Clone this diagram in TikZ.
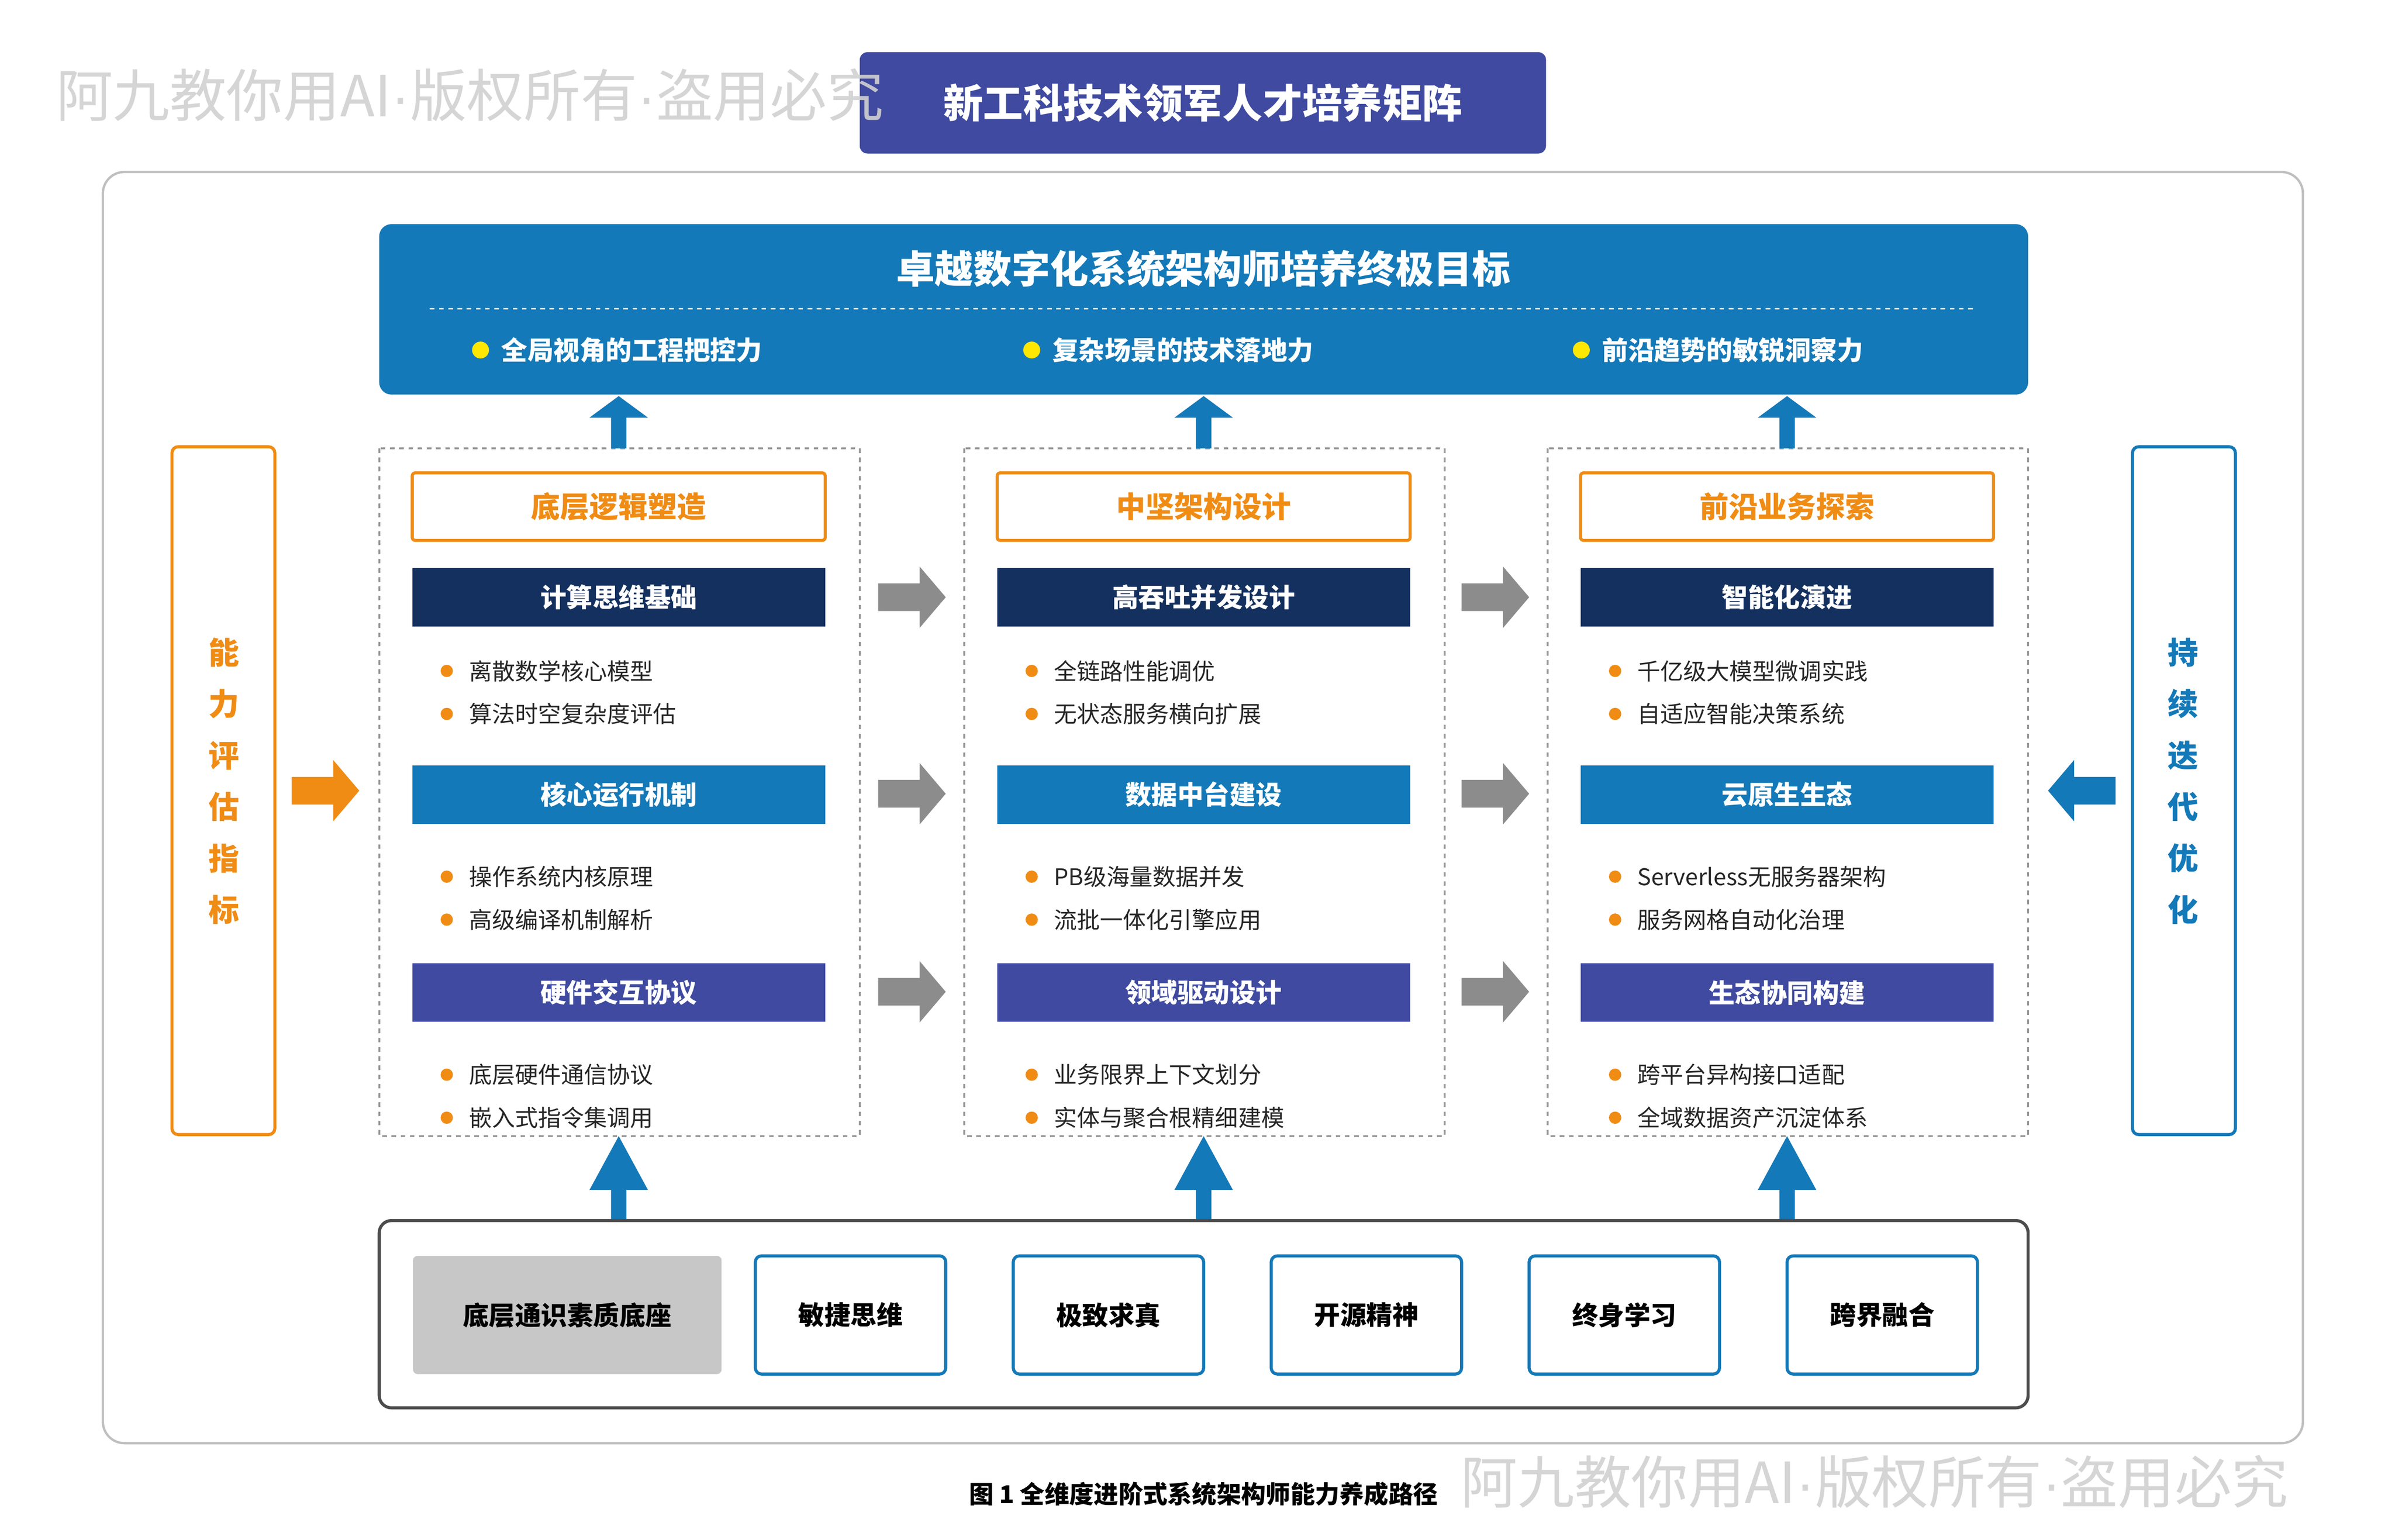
\documentclass[tikz,border=0pt]{standalone}
\usepackage{fontspec}
\setmainfont{Noto Sans CJK SC}
\newfontfamily\latf{Liberation Sans}
\definecolor{indigo}{HTML}{3F4AA0}
\definecolor{mblue}{HTML}{1479B8}
\definecolor{navy}{HTML}{14305E}
\definecolor{orng}{HTML}{F08C14}
\definecolor{gar}{HTML}{8C8C8C}
\newcommand{\upA}[3]{\fill[mblue] (#1-5,#2) -- (#1-5,#2-20) -- (#1-19,#2-20) -- (#1,#3) -- (#1+19,#2-20) -- (#1+5,#2-20) -- (#1+5,#2) -- cycle;}
\newcommand{\rtA}[3]{\fill[#3] (#1,#2-9) -- (#1+27,#2-9) -- (#1+27,#2-20) -- (#1+44,#2) -- (#1+27,#2+20) -- (#1+27,#2+9) -- (#1,#2+9) -- cycle;}
\newcommand{\wmtext}{阿九教你用AI{\latf ·}版权所有{\latf ·}盗用必究}
\begin{document}
\begin{tikzpicture}[x=1pt,y=-1pt,
 hdr/.style={draw=orng,line width=2pt,fill=white,rounded corners=2pt,minimum width=269pt,minimum height=44pt,text=orng,font=\fontsize{19}{19}\selectfont\bfseries},
 bar/.style={fill=#1,minimum width=269pt,minimum height=38pt,text=white,font=\fontsize{17}{17}\selectfont\bfseries},
 bl/.style={anchor=west,font=\fontsize{15}{15}\selectfont,text=black!85},
 sk/.style={draw=mblue,line width=2pt,rounded corners=4pt,minimum width=124pt,minimum height=77pt,font=\fontsize{17}{17}\selectfont\bfseries},
 vt/.style={font=\fontsize{20}{20}\selectfont\bfseries},
 wm/.style={text=black!18,opacity=0.9,font=\fontsize{37}{37}\selectfont,anchor=west}]
\useasboundingbox (0,0) rectangle (1560,1003);
\fill[white] (0,0) rectangle (1560,1003);
\draw[black!25,line width=1.5pt,rounded corners=14pt] (67,112) rectangle (1500,940);
\node[fill=indigo,rounded corners=5pt,minimum width=447pt,minimum height=66pt,text=white,font=\fontsize{26}{26}\selectfont\bfseries] (title) at (783.5,67) {新工科技术领军人才培养矩阵};
\node[wm] (wm1) at (33,62) {\wmtext};
% goal
\node[fill=mblue,rounded corners=8pt,minimum width=1074pt,minimum height=111pt] (goal) at (784,201.5) {};
\node[text=white,font=\fontsize{25}{25}\selectfont\bfseries] (gt) at (784,175) {卓越数字化系统架构师培养终极目标};
\draw[white,dashed,line width=1pt] (280,201) -- (1286,201);
\foreach \x/\t [count=\i] in {313/全局视角的工程把控力,672/复杂场景的技术落地力,1030/前沿趋势的敏锐洞察力}{
 \fill[yellow!90!orange] (\x,228) circle (5.5);
 \node[anchor=west,text=white,font=\fontsize{17}{17}\selectfont\bfseries] (g\i) at (\x+10,228) {\t};}
% columns
\foreach \cx/\h/\a/\aa/\ab/\b/\ba/\bb/\c/\ca/\cb [count=\i] in
 {403/底层逻辑塑造/计算思维基础/离散数学核心模型/算法时空复杂度评估/核心运行机制/操作系统内核原理/高级编译机制解析/硬件交互协议/底层硬件通信协议/嵌入式指令集调用,
  784/中坚架构设计/高吞吐并发设计/全链路性能调优/无状态服务横向扩展/数据中台建设/PB级海量数据并发/流批一体化引擎应用/领域驱动设计/业务限界上下文划分/实体与聚合根精细建模,
  1164/前沿业务探索/智能化演进/千亿级大模型微调实践/自适应智能决策系统/云原生生态/Serverless无服务器架构/服务网格自动化治理/生态协同构建/跨平台异构接口适配/全域数据资产沉淀体系}{
 \draw[black!40,dashed,line width=1.2pt] (\cx-156,292) rectangle (\cx+157,740);
 \node[hdr] (h\i) at (\cx,330) {\h};
 \node[bar=navy] (a\i) at (\cx,389) {\a};
 \node[bar=mblue] (b\i) at (\cx,517.5) {\b};
 \node[bar=indigo] (c\i) at (\cx,646.5) {\c};
 \foreach \y/\t in {437/\aa,465/\ab,571/\ba,599/\bb,700/\ca,728/\cb}{
  \fill[orng] (\cx-112,\y) circle (4);
  \node[bl] at (\cx-101,\y) {\t};}
 \upA{\cx}{292}{258}
 \upA{\cx}{795}{740}
}
\foreach \y in {389,517,646}{\rtA{572}{\y}{gar}\rtA{952}{\y}{gar}}
% side boxes
\draw[orng,line width=2pt,rounded corners=4pt] (112,291) rectangle (179,739);
\draw[mblue,line width=2pt,rounded corners=4pt] (1389,291) rectangle (1456,739);
\foreach \t [count=\i] in {能,力,评,估,指,标}{\node[vt,text=orng] (l\i) at (146,425+33.5*\i-33.5) {\t};}
\foreach \t [count=\i] in {持,续,迭,代,优,化}{\node[vt,text=mblue] (r\i) at (1422,425+33.5*\i-33.5) {\t};}
\rtA{190}{515}{orng}
\begin{scope}[xscale=-1,shift={(-2756,0)}]\rtA{1378}{515}{mblue}\end{scope}
% bottom
\draw[black!70,line width=2pt,rounded corners=8pt] (247,795) rectangle (1321,917);
\node[fill=black!22,rounded corners=3pt,minimum width=201pt,minimum height=77pt,font=\fontsize{17}{17}\selectfont\bfseries] (base) at (369.5,856.5) {底层通识素质底座};
\foreach \x/\t [count=\i] in {554/敏捷思维,722/极致求真,890/开源精神,1058/终身学习,1226/跨界融合}{\node[sk] (s\i) at (\x,856.5) {\t};}
\node[font=\fontsize{16}{16}\selectfont\bfseries] (cap) at (784,973) {图 1 全维度进阶式系统架构师能力养成路径};
\node[wm] (wm2) at (948,965) {\wmtext};
\end{tikzpicture}
\end{document}
